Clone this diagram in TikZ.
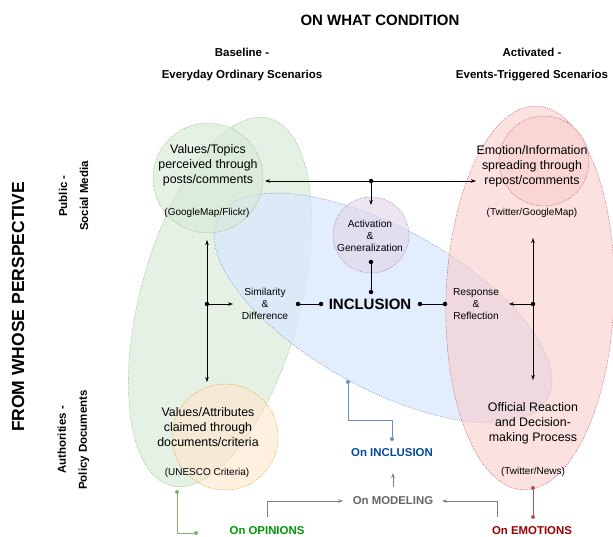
\documentclass[tikz,border=0pt]{standalone}
\usepackage{fontspec}
\setmainfont{Liberation Sans}
\usepackage{xcolor}
\definecolor{greenFill}{RGB}{213, 232, 212}
\definecolor{greenLine}{RGB}{130, 179, 102}
\definecolor{blueFill}{RGB}{218, 232, 252}
\definecolor{blueLine}{RGB}{108, 142, 191}
\definecolor{redFill}{RGB}{248, 206, 204}
\definecolor{redLine}{RGB}{184, 84, 80}
\definecolor{orangeFill}{RGB}{255, 230, 204}
\definecolor{orangeLine}{RGB}{215, 155, 0}
\definecolor{purpleFill}{RGB}{225, 213, 231}
\definecolor{purpleLine}{RGB}{150, 115, 166}
\definecolor{opinionGreen}{RGB}{0, 153, 0}
\definecolor{inclusionBlue}{RGB}{0, 76, 153}
\definecolor{emotionRed}{RGB}{153, 0, 0}
\definecolor{modelGray}{RGB}{102, 102, 102}
\usepackage{tikz}
\usetikzlibrary{positioning,shapes,arrows.meta}

\tikzset{
  area/.style={ellipse, inner sep=0pt, line width=0.4pt, dash pattern=on 1.2pt off 1.2pt, fill opacity=0.6},
  bubble/.style={circle, inner sep=0pt, line width=0.4pt, dash pattern=on 1.2pt off 1.2pt, fill opacity=0.6},
  head/.style={font=\fontsize{15}{18}\selectfont\bfseries},
  subhead/.style={font=\fontsize{11.5}{22}\selectfont\bfseries, align=center},
  body/.style={font=\fontsize{12.4}{15}\selectfont, align=center},
  source/.style={font=\fontsize{10}{12}\selectfont},
  link/.style={font=\fontsize{10.2}{12.3}\selectfont, align=center},
  topic/.style={font=\fontsize{11.4}{14}\selectfont\bfseries},
  dot/.style={circle, fill=black, inner sep=0pt, minimum size=4.5pt},
  cdot/.style={circle, fill=#1, inner sep=0pt, minimum size=4pt},
  flow/.style={-{Stealth[length=5pt,width=3.5pt]}, line width=0.6pt},
  grayflow/.style={-{Stealth[length=5pt,width=3.5pt]}, line width=0.6pt, draw=gray}
}

\begin{document}
\begin{tikzpicture}[x=1pt, y=-1pt]
\useasboundingbox (0,0) rectangle (613,537);

% areas
\node[area, draw=greenLine, fill=greenFill, minimum width=160pt, minimum height=380pt, rotate=-15] (opinionArea) at (220,302) {};
\node[area, draw=blueLine, fill=blueFill, fill opacity=0.78, minimum width=376pt, minimum height=160pt, rotate=-29] (inclusionArea) at (383,308) {};
\node[area, draw=redLine, fill=redFill, fill opacity=0.62, minimum width=168pt, minimum height=384pt, rotate=-2] (emotionArea) at (530,298) {};

\node[bubble, draw=greenLine, fill=greenFill, minimum size=110pt] (publicBase) at (208,178) {};
\node[bubble, draw=orangeLine, fill=orangeFill, minimum size=106pt] (authBase) at (225,437) {};
\node[bubble, draw=redLine, fill=redFill, minimum size=90pt] (publicAct) at (544,161) {};
\node[bubble, draw=purpleLine, fill=purpleFill, minimum size=76pt] (activation) at (371,235) {};

% headings
\node[head] (condition) at (380,20) {ON WHAT CONDITION};
\node[subhead] (baseline) at (242,65) {Baseline -\\Everyday Ordinary Scenarios};
\node[subhead] (activated) at (532,65) {Activated -\\Events-Triggered Scenarios};
\node[head, font=\fontsize{17.5}{20}\selectfont\bfseries, rotate=90] (perspective) at (18,307) {FROM WHOSE PERSPECTIVE};
\node[subhead, font=\fontsize{11.5}{21}\selectfont\bfseries, rotate=90] (public) at (73.5,196) {Public -\\Social Media};
\node[subhead, font=\fontsize{11.5}{21}\selectfont\bfseries, rotate=90] (authorities) at (73.5,440) {Authorities -\\Policy Documents};

% texts
\node[body] (valuesTopics) at (208,165) {Values/Topics\\perceived through\\posts/comments};
\node[source] (flickr) at (207,213) {(GoogleMap/Flickr)};
\node[body] (valuesAttr) at (208,427) {Values/Attributes\\claimed through\\documents/criteria};
\node[source] (unesco) at (207,473) {(UNESCO Criteria)};
\node[body] (emotionInfo) at (532,166) {Emotion/Information\\spreading through\\repost/comments};
\node[source] (twitterMap) at (532,213) {(Twitter/GoogleMap)};
\node[body] (official) at (533,423) {Official Reaction\\and Decision-\\making Process};
\node[source] (twitterNews) at (533,472) {(Twitter/News)};
\node[link] (actText) at (370,236) {Activation\\\&\\Generalization};
\node[link] (simText) at (265,304) {Similarity\\\&\\Difference};
\node[link] (respText) at (476,304) {Response\\\&\\Reflection};
\node[head] (inclusion) at (370,304) {INCLUSION};

% connectors
\node[dot] (topSplit) at (371,181) {};
\coordinate (topLeftEnd) at (265,181);
\coordinate (topRightEnd) at (476,181);
\coordinate (actIn) at (371,205);
\draw[flow] (topSplit) -- (topLeftEnd);
\draw[flow] (topSplit) -- (topRightEnd);
\draw[flow] (topSplit) -- (actIn);

\node[dot] (actOut) at (371,262) {};
\node[dot] (incTop) at (371,292) {};
\draw[line width=0.6pt] (actOut) -- (incTop);

\node[dot] (incLeft) at (321,304) {};
\node[dot] (simRight) at (298,304) {};
\draw[line width=0.6pt] (incLeft) -- (simRight);
\node[dot] (incRight) at (420,304) {};
\node[dot] (respLeft) at (445,304) {};
\draw[line width=0.6pt] (incRight) -- (respLeft);

\node[dot] (leftSplit) at (207,304) {};
\coordinate (leftUp) at (207,240);
\coordinate (leftDown) at (207,382);
\coordinate (simIn) at (233,304);
\draw[flow] (leftSplit) -- (leftUp);
\draw[flow] (leftSplit) -- (leftDown);
\draw[flow] (leftSplit) -- (simIn);

\node[dot] (rightSplit) at (533,304) {};
\coordinate (rightUp) at (533,238);
\coordinate (rightDown) at (533,380);
\coordinate (respIn) at (509,304);
\draw[flow] (rightSplit) -- (rightUp);
\draw[flow] (rightSplit) -- (rightDown);
\draw[flow] (rightSplit) -- (respIn);

% research topics
\node[topic, text=inclusionBlue] (onInclusion) at (392,453) {On INCLUSION};
\node[topic, text=modelGray] (onModeling) at (393,501) {On MODELING};
\node[topic, text=opinionGreen] (onOpinions) at (267,531) {On OPINIONS};
\node[topic, text=emotionRed] (onEmotions) at (532,531) {On EMOTIONS};

\node[cdot=blueLine] (incAreaDot) at (348,382) {};
\node[cdot=blueLine] (incTopicDot) at (392,439) {};
\draw[blueLine, line width=0.6pt] (incAreaDot) -- ++(0,38) -| (incTopicDot);

\node[cdot=greenLine] (opAreaDot) at (177,492) {};
\node[cdot=greenLine] (opTopicDot) at (196,533) {};
\draw[greenLine, line width=0.6pt] (opAreaDot) |- (opTopicDot);

\node[cdot=redLine] (emAreaDot) at (533,488) {};
\node[cdot=redLine] (emTopicDot) at (533,517) {};
\draw[redLine, line width=0.6pt] (emAreaDot) -- (emTopicDot);

\coordinate (opUp) at (267,517);
\coordinate (modLeft) at (343,501);
\coordinate (emUp) at (497,517);
\coordinate (modRight) at (442,501);
\coordinate (modTop) at (393,487);
\coordinate (incBottom) at (393,473);
\draw[grayflow] (opUp) |- (modLeft);
\draw[grayflow] (emUp) |- (modRight);
\draw[grayflow] (modTop) -- (incBottom);
\end{tikzpicture}
\end{document}
